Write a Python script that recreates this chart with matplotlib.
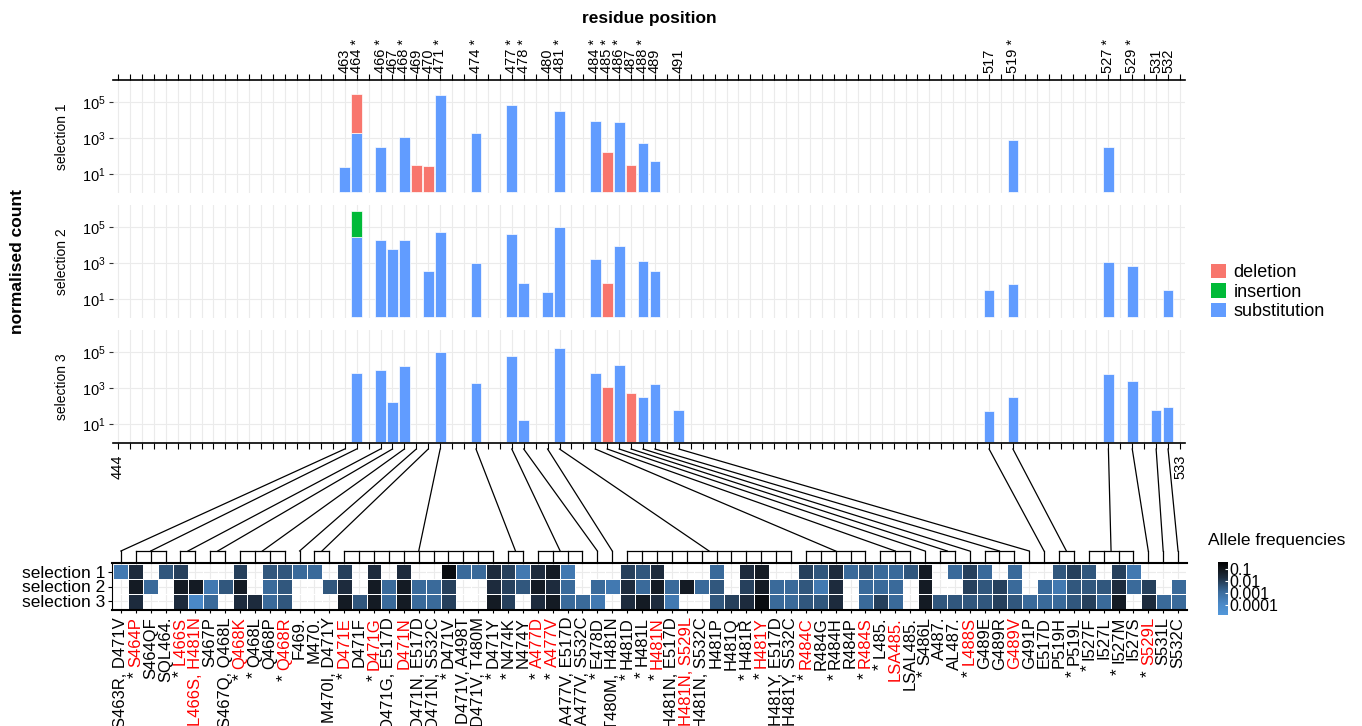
import re
import numpy as np
import matplotlib
matplotlib.use("Agg")
import matplotlib.pyplot as plt
from matplotlib.colors import LinearSegmentedColormap, LogNorm
from matplotlib.cm import ScalarMappable
from matplotlib.patches import Patch
from matplotlib.ticker import NullLocator

plt.rcParams["font.family"] = ["Liberation Sans", "DejaVu Sans"]
plt.rcParams["mathtext.fontset"] = "custom"
plt.rcParams["mathtext.rm"] = "Liberation Sans"
plt.rcParams["mathtext.it"] = "Liberation Sans:italic"

# normalised counts per residue, by selection and mutation type
sub1 = {463: 27, 464: 2000, 466: 330, 468: 1200, 471: 2.6e5, 474: 1900, 477: 6.8e4,
        481: 3.4e4, 484: 9300, 486: 8300, 488: 540, 489: 58, 519: 780, 527: 320}
del1 = {464: 145, 469: 35, 470: 28, 485: 165, 487: 35}

sub2 = {464: 28000, 466: 19500, 467: 6000, 468: 19500, 470: 400, 471: 55000, 474: 1000,
        477: 43000, 478: 78, 480: 25, 481: 1e5, 484: 1700, 486: 9000, 488: 1300, 489: 400,
        517: 35, 519: 68, 527: 1150, 529: 700, 532: 35}
ins2 = {464: 29}
del2 = {485: 78}

sub3 = {464: 6900, 466: 10000, 467: 170, 468: 17000, 471: 1e5, 474: 1900, 477: 63000,
        478: 17, 481: 1.7e5, 484: 6900, 486: 20000, 488: 320, 489: 1700, 491: 60,
        517: 52, 519: 320, 527: 6200, 529: 2500, 531: 60, 532: 87}
del3 = {485: 1150, 487: 540}

# heatmap columns; "* " marks starred mutations
mutations = ["S463R, D471V", "* S464P", "S464QF", "SQL464.", "* L466S", "* L466S, H481N",
             "S467P", "S467Q, Q468L", "* Q468K", "* Q468L", "Q468P", "* Q468R", "F469.",
             "M470.", "M470I, D471Y", "* D471E", "D471F", "* D471G", "D471G, E517D", "D471N",
             "D471N, E517D", "D471N, S532C", "* D471V", "D471V, A498T", "D471V, T480M",
             "* D471Y", "* N474K", "N474Y", "* A477D", "* A477V", "A477V, E517D",
             "A477V, S532C", "* E478D", "T480M, H481N", "* H481D", "* H481L", "* H481N",
             "H481N, E517D", "* H481N, S529L", "H481N, S532C", "H481P", "H481Q", "* H481R",
             "* H481Y", "H481Y, E517D", "H481Y, S532C", "* R484C", "R484G", "* R484H",
             "R484P", "* R484S", "* L485.", "LSA485.", "LSAL485.", "* S486L", "A487.",
             "AL487.", "* L488S", "G489E", "G489R", "G489V", "G491P", "E517D", "P519H",
             "* P519L", "* I527F", "I527L", "* I527M", "I527S", "* S529L", "S531L", "S532C"]

red_labels = ["S464P", "L466S", "L466S, H481N", "Q468K", "Q468R", "D471E", "D471G", "D471N",
              "A477D", "A477V", "H481N", "H481N, S529L", "H481Y", "R484C", "R484S",
              "LSA485.", "L488S", "G489V", "S529L"]

N = None
freq1 = [4e-4, .02, N, 3e-3, 8e-3, N, N, N, 8e-3, N, 3e-3, 3e-3, 1.3e-3, 1.3e-3, N, 8e-3,
         N, .02, N, .02, N, N, .16, 1.3e-3, 1.3e-3, .02, 8e-3, 4e-4, .02, .06, 4e-4, N, N, N,
         8e-3, 3e-3, .02, N, N, N, 1.3e-3, N, .02, .06, N, N, 8e-3, 3e-3, .02, 1.3e-3, 3e-3,
         1.3e-3, 1.3e-3, 3e-3, .06, N, 1.3e-3, 8e-3, 1.3e-3, N, 1.3e-3, N, N, 3e-3, 8e-3,
         3e-3, N, 8e-3, 4e-4, N, N, N]
freq2 = [N, .06, 1.3e-3, N, .06, .06, 4e-4, 3e-3, .06, N, 1.3e-3, 3e-3, N, N, 3e-3, .02,
         N, .06, 1.3e-3, .06, 1.3e-3, 1.3e-3, 8e-3, N, N, .02, 8e-3, 3e-3, .06, .02, 1.3e-3,
         N, 1.3e-3, 4e-4, .02, 1.3e-3, .06, 1.3e-3, .06, 1.3e-3, 3e-3, N, 8e-3, .06, 1.3e-3,
         1.3e-3, 3e-3, 4e-4, .02, N, 1.3e-3, 1.3e-3, 1.3e-3, N, .06, N, N, 8e-3, 3e-3, 8e-3,
         1.3e-3, N, 1.3e-3, 4e-4, 3e-3, 3e-3, 3e-3, .02, 1.3e-3, 8e-3, N, 1.3e-3]
freq3 = [N, .02, N, N, .02, 1.3e-4, 1.3e-3, N, .02, .02, 1.3e-3, 3e-3, N, N, N, .06, 3e-3,
         .06, 1.3e-3, .06, 1.3e-3, 1.3e-3, 8e-3, N, N, .06, 8e-3, N, .02, .06, 1.3e-3, 1.3e-3,
         4e-4, N, .02, .06, .02, 4e-4, N, N, 3e-3, 8e-3, .02, .16, 1.3e-3, 1.3e-3, 3e-3,
         3e-3, .02, N, 1.3e-3, 8e-3, 1.3e-3, N, .06, 3e-3, 3e-3, 3e-3, 3e-3, 8e-3, 3e-3,
         1.3e-3, 1.3e-3, 1.3e-3, 3e-3, 8e-3, 1.3e-3, .06, N, .02, 1.3e-3, 1.3e-3]

selections = ["selection 1", "selection 2", "selection 3"]
kind_colors = {"deletion": "#F8766D", "insertion": "#00BA38", "substitution": "#619CFF"}
stack_order = ["substitution", "insertion", "deletion"]
bar_series = [{"substitution": sub1, "deletion": del1},
              {"substitution": sub2, "insertion": ins2, "deletion": del2},
              {"substitution": sub3, "deletion": del3}]

W, H = 1362, 726
fig = plt.figure(figsize=(W / 100, H / 100), dpi=100)


def px_box(x0, y0, x1, y1):
    return [x0 / W, 1 - y1 / H, (x1 - x0) / W, (y1 - y0) / H]


# group heatmap columns by their first residue number
col_res = [int(re.search(r"\d+", m).group()) for m in mutations]
groups = {}
for i, r in enumerate(col_res):
    groups.setdefault(r, []).append(i + 1)
starred_res = {r for r, m in zip(col_res, mutations) if m.startswith("*")}

# ---- bar panels
panel_y = [(80, 192.5), (205, 317.5), (330, 442.5)]
positions = np.arange(444, 534)
bar_axes = []
for k, ((y0, y1), series) in enumerate(zip(panel_y, bar_series)):
    ax = fig.add_axes(px_box(113, y0, 1185, y1))
    residues = sorted(set().union(*[s.keys() for s in series.values()]))
    for r in residues:
        base = 0.0
        for kind in stack_order:
            v = series.get(kind, {}).get(r)
            if not v:
                continue
            lv = np.log10(v)
            ax.bar(r, 10 ** (base + lv) - 10 ** base, bottom=10 ** base, width=0.9,
                   color=kind_colors[kind], edgecolor="white", linewidth=0.5, zorder=2)
            base += lv
    ax.set_yscale("log")
    ax.set_ylim(10 ** -0.01, 10 ** 6.25)
    ax.set_xlim(443.58, 533.42)
    ax.set_yticks([10, 1e3, 1e5])
    ax.set_yticklabels(["$10^1$", "$10^3$", "$10^5$"])
    ax.yaxis.set_minor_locator(NullLocator())
    ax.set_xticks(positions)
    ax.grid(True, color="#EBEBEB", linewidth=0.8)
    ax.set_axisbelow(True)
    for s in ax.spines.values():
        s.set_visible(False)
    ax.tick_params(axis="y", length=3, color="#333333", labelsize=10.5, pad=2)
    ax.text(-0.048, 0.5, selections[k], transform=ax.transAxes, rotation=90,
            ha="center", va="center", fontsize=10)
    bar_axes.append(ax)

ax1, ax2, ax3 = bar_axes
ax1.xaxis.tick_top()
ax1.set_xticklabels([(f"{p} *" if p in starred_res else str(p)) if p in groups else ""
                     for p in positions], rotation=90, fontsize=10.5)
ax1.tick_params(axis="x", top=True, bottom=False, length=4, width=0.8, pad=1)
ax1.spines["top"].set_visible(True)
ax1.spines["top"].set_linewidth(1.2)
ax2.tick_params(axis="x", length=0, labelbottom=False)
ax3.set_xticklabels([str(p) if p in (444, 533) else "" for p in positions],
                    rotation=90, fontsize=10.5)
ax3.tick_params(axis="x", length=4, width=0.8, pad=5)
ax3.spines["bottom"].set_visible(True)
ax3.spines["bottom"].set_linewidth(1.2)

fig.text(649 / W, 1 - 18 / H, "residue position", fontsize=12.5, fontweight="bold",
         ha="center", va="center")
fig.text(18 / W, 1 - 262 / H, "normalised count", fontsize=12.5, fontweight="bold",
         rotation=90, ha="center", va="center")
fig.legend([Patch(facecolor=kind_colors[k]) for k in ["deletion", "insertion", "substitution"]],
           ["deletion", "insertion", "substitution"], loc="center left",
           bbox_to_anchor=(1211 / W, 1 - 292 / H), frameon=False, fontsize=13,
           handlelength=0.85, handleheight=0.85, labelspacing=0.1, handletextpad=0.4,
           borderpad=0, borderaxespad=0)

# ---- heatmap
cmap = LinearSegmentedColormap.from_list(
    "allele", [(0, "#5298da"), (0.21, "#4a88c6"), (0.44, "#3a6a9a"), (0.62, "#26415d"),
               (0.71, "#1d2c3e"), (0.83, "#141a22"), (1.0, "#000000")])
norm = LogNorm(vmin=10 ** -4.8, vmax=10 ** -0.45)
ncol = len(mutations)
cols = np.arange(1, ncol + 1)
axh = fig.add_axes(px_box(112, 563, 1187, 610))
data = np.ma.masked_invalid(np.array([freq1, freq2, freq3], dtype=float))
axh.pcolormesh(np.arange(0.5, ncol + 1), np.arange(0.5, 4), data, cmap=cmap, norm=norm,
               edgecolors="white", linewidth=0.7, zorder=2)
axh.set_xlim(0.4, ncol + 0.6)
axh.set_ylim(3.6, 0.4)
axh.set_yticks([1, 2, 3])
axh.set_yticklabels(selections, fontsize=12.5)
axh.set_xticks(cols)
names = [m.lstrip("* ") for m in mutations]
axh.set_xticklabels(names, rotation=90, fontsize=12)
for lab, nm in zip(axh.get_xticklabels(), names):
    lab.set_color("#FF0000" if nm in red_labels else "black")
axh.grid(True, color="#EBEBEB", linewidth=0.8)
axh.set_axisbelow(True)
axh.spines["right"].set_visible(False)
axh.spines["top"].set_linewidth(1.5)
axh.spines["bottom"].set_linewidth(1.5)
axh.spines["left"].set_linewidth(0.8)
axh.tick_params(axis="x", length=2, pad=3)
axh.tick_params(axis="y", length=3, pad=2)

# colour bar
cax = fig.add_axes(px_box(1218, 562, 1228, 615))
cb = fig.colorbar(ScalarMappable(norm=norm, cmap=cmap), cax=cax)
cb.outline.set_visible(False)
cax.yaxis.set_minor_locator(NullLocator())
cax.set_yticks([0.1, 0.01, 0.001, 0.0001])
cax.set_yticklabels(["0.1", "0.01", "0.001", "0.0001"])
cax.tick_params(length=2, color="white", direction="in", labelsize=11.5, pad=1)
fig.text(1208 / W, 1 - 541 / H, "Allele frequencies", fontsize=12.5, va="center")

# ---- connectors from residue positions to heatmap columns
ov = fig.add_axes([0, 0, 1, 1])
ov.set_xlim(0, W)
ov.set_ylim(H, 0)
ov.axis("off")
y_top, y_br, y_hm = 449, 551, 563
for r, cs in groups.items():
    xt = ax3.transData.transform((r, 1))[0]
    xs = [axh.transData.transform((c, 1))[0] for c in cs]
    xm = (xs[0] + xs[-1]) / 2
    ov.plot([xt, xm], [y_top, y_br], color="black", lw=0.9)
    ov.plot([xs[0], xs[-1]], [y_br, y_br], color="black", lw=0.9)
    for x in xs:
        ov.plot([x, x], [y_br, y_hm], color="black", lw=0.9)

# black asterisks in front of starred labels
fig.canvas.draw()
renderer = fig.canvas.get_renderer()
for lab, m in zip(axh.get_xticklabels(), mutations):
    if m.startswith("*"):
        bb = lab.get_window_extent(renderer)
        fig.text((bb.x0 + bb.x1) / 2 / W, bb.y0 / H, "* ", rotation=90, ha="center",
                 va="top", fontsize=12.5, color="black")

fig.savefig("out.png", dpi=100)
